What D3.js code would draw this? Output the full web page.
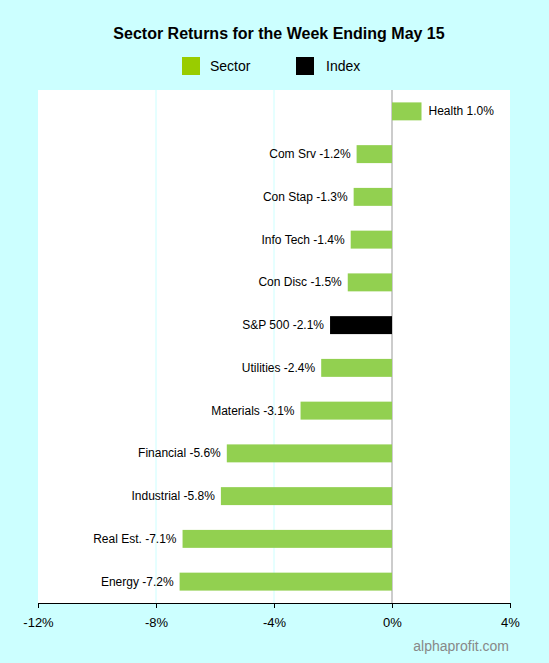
<!DOCTYPE html>
<html><head><script src="https://cdn.jsdelivr.net/npm/d3@7"></script>
<style>body{margin:0;background:#ccffff;}text{font-family:Arial,"Liberation Sans",sans-serif;}</style></head>
<body><svg id="c" width="549" height="663"></svg>
<script>
const categories=["Health","Com Srv","Con Stap","Info Tech","Con Disc","S&P 500","Utilities","Materials","Financial","Industrial","Real Est.","Energy"];
const values=[1.0,-1.2,-1.3,-1.4,-1.5,-2.1,-2.4,-3.1,-5.6,-5.8,-7.1,-7.2];
const tickValues=[-12,-8,-4,0,4];
const svg=d3.select("#c");
svg.append("rect").attr("width",549).attr("height",663).attr("fill","#ccffff");
const L=38,R=510,T=90,B=603;
svg.append("rect").attr("x",L).attr("y",T).attr("width",R-L).attr("height",B-T).attr("fill","#fff");
const x=d3.scaleLinear().domain([-12,4]).range([L,R]);
const y=d3.scaleBand().domain(categories).range([T,B]).paddingInner(0.58).paddingOuter(0.29);
[-8,-4].forEach(v=>svg.append("line").attr("x1",x(v)).attr("x2",x(v)).attr("y1",T).attr("y2",B).attr("stroke","#ccffff"));
svg.append("line").attr("x1",x(0)).attr("x2",x(0)).attr("y1",T).attr("y2",B).attr("stroke","#999");
svg.selectAll(".bar").data(categories).enter().append("rect")
 .attr("x",(d,i)=>x(Math.min(0,values[i]))).attr("width",(d,i)=>Math.abs(x(values[i])-x(0)))
 .attr("y",d=>y(d)).attr("height",y.bandwidth())
 .attr("fill",d=>d==="S&P 500"?"#000":"#92d050");
svg.selectAll(".lbl").data(categories).enter().append("text")
 .attr("x",(d,i)=>values[i]<0?x(values[i])-6:x(values[i])+7)
 .attr("y",d=>y(d)+y.bandwidth()/2+4)
 .attr("text-anchor",(d,i)=>values[i]<0?"end":"start")
 .attr("font-size",12).attr("fill","#000")
 .text((d,i)=>d+" "+values[i].toFixed(1)+"%");
const ax=svg.append("g").attr("transform",`translate(0,${B})`)
 .call(d3.axisBottom(x).tickValues(tickValues).tickSize(5).tickFormat(d=>d+"%"));
ax.select(".domain").attr("stroke","#000");
ax.selectAll("text").attr("font-size",13).attr("dy","1.2em").attr("fill","#000");
svg.append("text").attr("x",279).attr("y",39).attr("text-anchor","middle").attr("font-size",16).attr("font-weight","bold").text("Sector Returns for the Week Ending May 15");
svg.append("rect").attr("x",182).attr("y",57).attr("width",18).attr("height",18).attr("fill","#99cc00");
svg.append("text").attr("x",210).attr("y",71).attr("font-size",14).text("Sector");
svg.append("rect").attr("x",296).attr("y",57).attr("width",18).attr("height",18).attr("fill","#000");
svg.append("text").attr("x",326).attr("y",71).attr("font-size",14).text("Index");
svg.append("text").attr("x",509).attr("y",651).attr("text-anchor","end").attr("font-size",14).attr("fill","#888").text("alphaprofit.com");
</script></body></html>
